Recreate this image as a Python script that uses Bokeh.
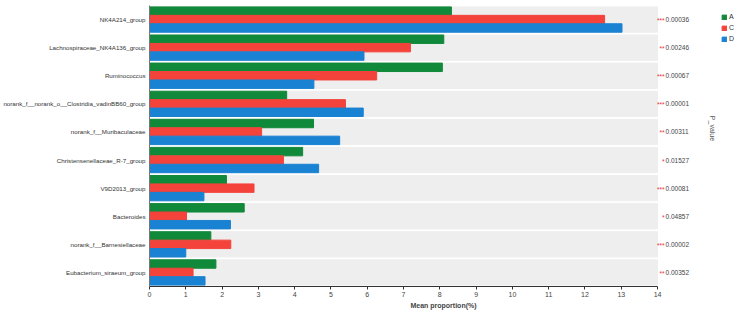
import math
from bokeh.plotting import figure
from bokeh.models import ColumnDataSource, FactorRange, Range1d, Legend, LegendItem, Label
from bokeh.core.properties import value
from bokeh.transform import dodge
from bokeh.embed import file_html
from bokeh.resources import INLINE

cats = ["NK4A214_group", "Lachnospiraceae_NK4A136_group", "Ruminococcus",
        "norank_f__norank_o__Clostridia_vadinBB60_group", "norank_f__Muribaculaceae",
        "Christensenellaceae_R-7_group", "V9D2013_group", "Bacteroides",
        "norank_f__Barnesiellaceae", "Eubacterium_siraeum_group"]
A = [8.32, 8.11, 8.07, 3.78, 4.52, 4.22, 2.12, 2.61, 1.69, 1.83]
C = [12.54, 7.19, 6.26, 5.40, 3.09, 3.69, 2.88, 1.02, 2.24, 1.20]
D = [13.02, 5.91, 4.53, 5.89, 5.24, 4.66, 1.50, 2.23, 1.00, 1.53]
stars = ["***", "**", "***", "***", "**", "*", "***", "*", "***", "**"]
pvals = ["0.00036", "0.00246", "0.00067", "0.00001", "0.00311",
         "0.01527", "0.00081", "0.04857", "0.00002", "0.00352"]
x_max = 14
x_ticks = list(range(0, 15))

FONT = "Liberation Sans"
GREEN, RED, BLUE = "#11893a", "#f4433b", "#1a82d2"

W, H = 737, 311
LEFT, TOP, BOTTOM = 149, 5, 25
PX_PER_UNIT = 36.29
x_end = (W - LEFT) / PX_PER_UNIT

src = ColumnDataSource(dict(cat=cats, A=A, C=C, D=D, stars=stars, pvals=pvals,
                            full=[x_max] * len(cats),
                            lab_x=[x_max] * len(cats)))

p = figure(width=W, height=H, y_range=FactorRange(*cats[::-1], range_padding=0),
           x_range=Range1d(0, x_end), output_backend="svg", toolbar_location=None,
           min_border_left=LEFT, min_border_right=0, min_border_top=TOP,
           min_border_bottom=BOTTOM)
p.outline_line_color = None
p.xgrid.visible = False
p.ygrid.visible = False

p.hbar(y="cat", left=0, right="full", height=0.9, source=src, color="#eeeeee")
rA = p.hbar(y=dodge("cat", 0.3, range=p.y_range), left=0, right="A", height=0.3,
            source=src, color=GREEN)
rC = p.hbar(y=dodge("cat", 0.0, range=p.y_range), left=0, right="C", height=0.3,
            source=src, color=RED)
rD = p.hbar(y=dodge("cat", -0.3, range=p.y_range), left=0, right="D", height=0.3,
            source=src, color=BLUE)

# axes
p.xaxis.bounds = (0, x_max)
p.xaxis.ticker = x_ticks
p.xaxis.axis_label = "Mean proportion(%)"
p.xaxis.axis_label_text_font = FONT
p.xaxis.axis_label_text_font_style = "bold"
p.xaxis.axis_label_text_font_size = "7px"
p.xaxis.axis_label_standoff = 2
p.xaxis.major_label_text_font = FONT
p.xaxis.major_label_text_font_size = "7px"
p.xaxis.major_label_text_color = "#444444"
p.xaxis.major_label_standoff = 2
p.xaxis.major_tick_out = 3
p.xaxis.major_tick_in = 0
p.xaxis.minor_tick_line_color = None
p.xaxis.axis_line_color = "#333333"
p.xaxis.major_tick_line_color = "#333333"

p.yaxis.major_label_text_font = FONT
p.yaxis.major_label_text_font_size = "6.2px"
p.yaxis.major_label_text_color = "#333333"
p.yaxis.major_label_standoff = 4
p.yaxis.major_tick_out = 0
p.yaxis.major_tick_in = 0
p.yaxis.axis_line_color = "#777777"

# p-values
p.text(x="lab_x", y="cat", text="stars", source=src, x_offset=7, y_offset=1,
       text_align="right", text_baseline="middle", text_color="#e8303a",
       text_font=value(FONT), text_font_size="6.5px")
p.text(x="lab_x", y="cat", text="pvals", source=src, x_offset=8,
       text_align="left", text_baseline="middle", text_color="#444444",
       text_font=value(FONT), text_font_size="6.5px")

frame_h = H - TOP - BOTTOM
unit_h = frame_h / len(cats)
p.add_layout(Label(x=(712 - LEFT) / PX_PER_UNIT, y=len(cats) - (128 - TOP) / unit_h,
                   text="P_value", angle=-math.pi / 2,
                   text_align="center", text_baseline="middle", text_color="#555555",
                   text_font=FONT, text_font_size="7px"))

legend = Legend(items=[LegendItem(label="A", renderers=[rA]),
                       LegendItem(label="C", renderers=[rC]),
                       LegendItem(label="D", renderers=[rD])],
                location=(572, frame_h - (42 - TOP)), glyph_width=6, glyph_height=6,
                label_height=7, label_width=5, spacing=4, padding=0, margin=0,
                label_standoff=2, border_line_color=None, background_fill_alpha=0,
                label_text_font=FONT, label_text_font_size="7px",
                label_text_color="#333333", label_text_baseline="middle")
p.add_layout(legend, "center")

open("out.html", "w").write(file_html(p, INLINE))
